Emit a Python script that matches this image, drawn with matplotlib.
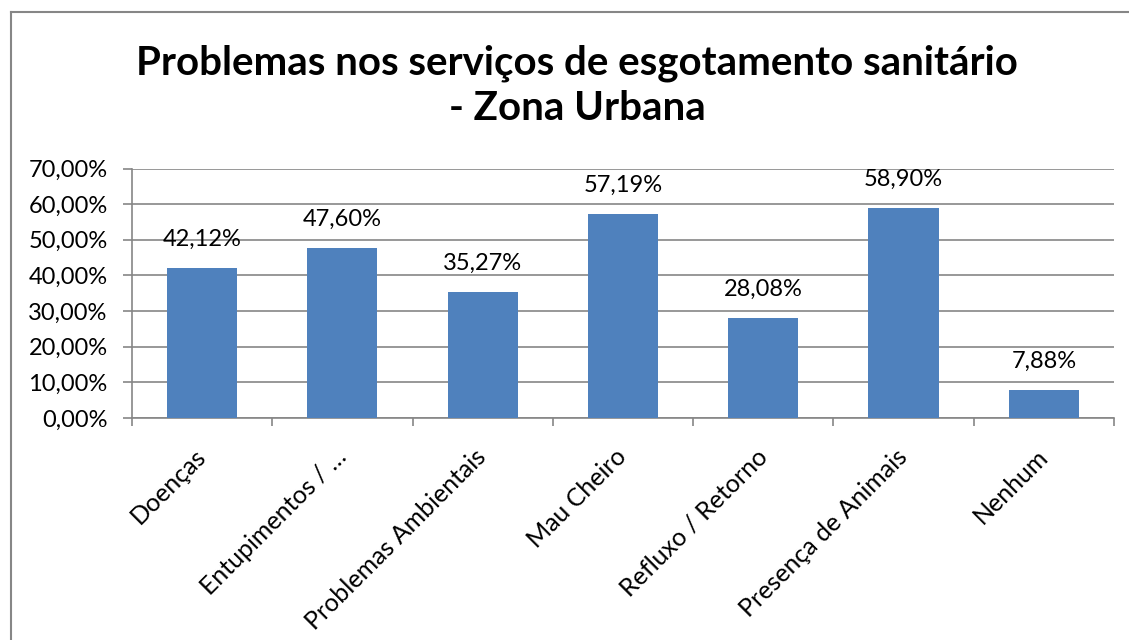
import numpy as np
import matplotlib.pyplot as plt
from matplotlib.lines import Line2D

plt.rcParams['font.family'] = ['Lato', 'DejaVu Sans']

categories = ['Doenças', 'Entupimentos / …', 'Problemas Ambientais', 'Mau Cheiro',
              'Refluxo / Retorno', 'Presença de Animais', 'Nenhum']
values = [42.12, 47.60, 35.27, 57.19, 28.08, 58.90, 7.88]
yticks = [0, 10, 20, 30, 40, 50, 60, 70]

fig = plt.figure(figsize=(11.29, 6.4), dpi=100)
ax = fig.add_axes([0.1169, 0.3469, 0.8698, 0.3898])

# chart frame: only left and top edges show in the picture
fx, fy = 10.5 / 1129, 1 - 11.5 / 640
fig.lines.append(Line2D([fx, fx], [0, fy], transform=fig.transFigure, color='#868686', lw=1.5))
fig.lines.append(Line2D([fx, 1], [fy, fy], transform=fig.transFigure, color='#868686', lw=1.5))

x = np.arange(len(categories))
ax.bar(x, values, width=0.5, color='#4F81BD', zorder=3)

for xi, v in zip(x, values):
    ax.annotate(f'{v:.2f}%'.replace('.', ','), (xi, v), xytext=(0, 13),
                textcoords='offset points', ha='center', va='bottom', fontsize=17)

ax.set_xlim(-0.5, len(categories) - 0.5)
ax.set_ylim(0, 70)
ax.set_yticks(yticks)
ax.set_yticklabels([f'{t:.2f}%'.replace('.', ',') for t in yticks], fontsize=17)
ax.yaxis.grid(True, color='#868686', lw=1.2, zorder=0)

# category ticks at the boundaries, labels at the centres
ax.set_xticks(np.arange(len(categories) + 1) - 0.5)
ax.set_xticklabels([])
ax.set_xticks(x, minor=True)
ax.set_xticklabels(categories, minor=True, rotation=45, ha='right', va='center',
                   rotation_mode='anchor', fontsize=18)
ax.tick_params(axis='x', which='minor', length=0, pad=25)
ax.tick_params(axis='x', which='major', length=6, color='#868686', width=1.2)
ax.tick_params(axis='y', length=6.5, color='#868686', width=1.2, pad=11)

for s in ['top', 'right']:
    ax.spines[s].set_visible(False)
for s in ['left', 'bottom']:
    ax.spines[s].set_color('#868686')
    ax.spines[s].set_linewidth(1.2)

fig.text(0.511, 0.866, 'Problemas nos serviços de esgotamento sanitário\n- Zona Urbana',
         ha='center', va='center', fontsize=29, fontweight='bold', linespacing=1.25)

fig.savefig('out.png', dpi=100)
